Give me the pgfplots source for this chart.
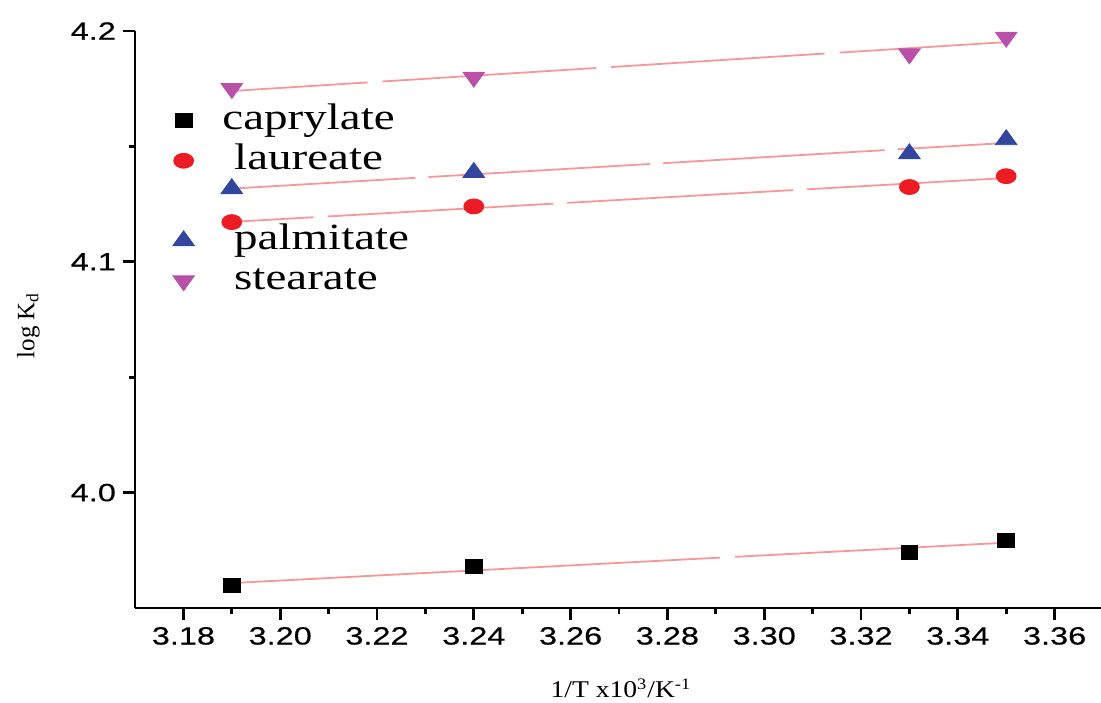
\documentclass[border=0pt]{standalone}
\usepackage{fontspec}
\setmainfont{Liberation Serif}
\newfontfamily\legfont[FakeStretch=1.27]{Liberation Serif}
\newfontfamily\labfont[FakeStretch=1.15]{Liberation Serif}
\newfontfamily\tickfont[FakeStretch=1.3, FakeBold=0.4]{Liberation Sans}
\usepackage{pgfplots}
\pgfplotsset{compat=1.18}
\definecolor{fitpink}{RGB}{250,150,150}
\definecolor{laured}{RGB}{237,28,36}
\definecolor{palblue}{RGB}{50,70,160}
\definecolor{stemag}{RGB}{185,80,170}

\begin{document}
\begin{tikzpicture}
\begin{axis}[
  scale only axis,
  width=484pt, height=288.5pt,
  xmin=3.17, xmax=3.37, ymin=3.95, ymax=4.2,
  axis x line=bottom, axis y line=left,
  axis line style={-, line width=1.4pt},
  xtick={3.18,3.20,3.22,3.24,3.26,3.28,3.30,3.32,3.34,3.36},
  ytick={4.0,4.1,4.2},
  minor x tick num=1, minor y tick num=1,
  tick align=outside,
  major tick length=6pt, minor tick length=3pt,
  every tick/.style={black, line width=1.4pt},
  /pgf/number format/assume math mode=true,
  tick label style={font=\tickfont\fontsize{12.5}{12.5}\selectfont},
  xticklabel style={/pgf/number format/.cd, fixed, fixed zerofill, precision=2},
  yticklabel style={/pgf/number format/.cd, fixed, fixed zerofill, precision=1},
  xlabel={1/T x10\textsuperscript{3}/K\textsuperscript{-1}},
  xlabel style={font=\labfont\fontsize{12}{12}\selectfont, at={(axis description cs:0.502,-0.139)}, anchor=center},
  ylabel={log K\textsubscript{d}},
  ylabel style={font=\fontsize{12.5}{12.5}\selectfont, at={(axis description cs:-0.11,0.49)}, anchor=center},
  clip=false,
  legend cell align=left,
  legend style={draw=none, fill=none, at={(axis description cs:0.026,0.885)}, anchor=north west,
    font=\legfont\fontsize{18.5}{18.5}\selectfont,
    nodes={inner sep=1pt, text height=13pt, text depth=4pt}, row sep=1pt, column sep=13pt},
]
\addplot[only marks, mark=square*, mark size=3.5pt, mark options={xscale=1.2, draw=black, fill=black}]
  coordinates {(3.19,3.9600) (3.24,3.9682) (3.33,3.9741) (3.35,3.9791)};
\addlegendentry{caprylate}
\addplot[only marks, mark=*, mark size=3.75pt, mark options={xscale=1.33, draw=laured, fill=laured}]
  coordinates {(3.19,4.1172) (3.24,4.1240) (3.33,4.1324) (3.35,4.1371)};
\addlegendentry{\ laureate}
\addlegendimage{empty legend}
\addlegendentry{}
\addplot[only marks, mark=triangle*, mark size=5pt, mark options={xscale=1.25, draw=palblue, fill=palblue}]
  coordinates {(3.19,4.1317) (3.24,4.1387) (3.33,4.1468) (3.35,4.1529)};
\addlegendentry{\ palmitate}
\addplot[only marks, mark=triangle*, mark size=5pt, mark options={rotate=180, xscale=1.25, draw=stemag, fill=stemag}]
  coordinates {(3.19,4.1751) (3.24,4.1800) (3.33,4.1901) (3.35,4.1973)};
\addlegendentry{\ stearate}
% linear fits
\addplot[forget plot, fitpink, line width=0.9pt, dash pattern=on 244.5pt off 7.5pt]
  coordinates {(3.19,3.9608) (3.35,3.9783)};
\addplot[forget plot, fitpink, line width=0.9pt, dash pattern=on 113pt off 7pt, dash phase=72pt]
  coordinates {(3.19,4.1173) (3.35,4.1363)};
\addplot[forget plot, fitpink, line width=0.9pt, dash pattern=on 111pt off 6.5pt, dash phase=19pt]
  coordinates {(3.19,4.1317) (3.35,4.1515)};
\addplot[forget plot, fitpink, line width=0.9pt, dash pattern=on 107pt off 7.5pt, dash phase=39pt]
  coordinates {(3.19,4.1740) (3.35,4.1952)};
\end{axis}
\pgfresetboundingbox
\path (-67.5pt,-47pt) rectangle (483pt,304pt);
\end{tikzpicture}
\end{document}
